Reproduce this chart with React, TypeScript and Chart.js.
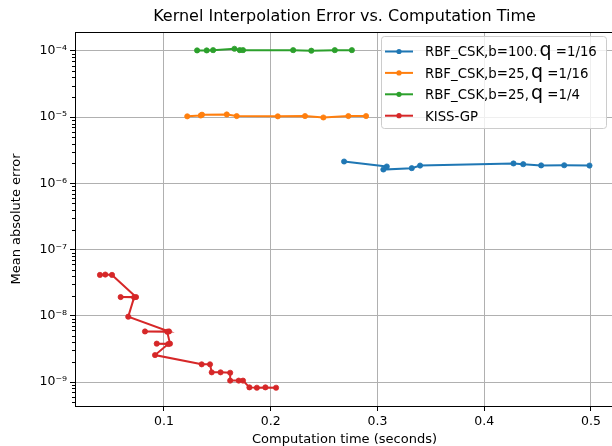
import { useEffect, useRef } from "react";
import { Chart, registerables } from "chart.js";

Chart.register(...registerables);

// ---- data ----
const blueTime = [0.2687, 0.3087, 0.3055, 0.3321, 0.3399, 0.4274, 0.4365, 0.4533, 0.4749, 0.4986];
const blueErr = [2.14e-6, 1.8e-6, 1.62e-6, 1.7e-6, 1.86e-6, 2.0e-6, 1.95e-6, 1.87e-6, 1.88e-6, 1.86e-6];

const orangeTime = [0.1218, 0.1344, 0.1356, 0.1588, 0.1681, 0.2066, 0.2321, 0.2493, 0.2727, 0.2893];
const orangeErr = [1.03e-5, 1.06e-5, 1.09e-5, 1.1e-5, 1.04e-5, 1.03e-5, 1.04e-5, 0.99e-5, 1.04e-5, 1.04e-5];

const greenTime = [0.131, 0.14, 0.146, 0.166, 0.171, 0.174, 0.221, 0.238, 0.26, 0.276];
const greenErr = [1.02e-4, 1.02e-4, 1.03e-4, 1.08e-4, 1.03e-4, 1.03e-4, 1.03e-4, 1.01e-4, 1.03e-4, 1.03e-4];

const redTime = [
  0.04, 0.045, 0.0513, 0.0738, 0.0594, 0.072, 0.0665, 0.1047, 0.0822, 0.103, 0.1056, 0.0932, 0.104,
  0.0916, 0.1353, 0.1431, 0.1447, 0.153, 0.162, 0.162, 0.17, 0.174, 0.18, 0.187, 0.195, 0.205,
];
const redErr = [
  4.15e-8, 4.2e-8, 4.15e-8, 1.92e-8, 1.92e-8, 1.9e-8, 9.7e-9, 5.8e-9, 5.8e-9, 5.75e-9, 3.8e-9, 3.8e-9,
  3.75e-9, 2.55e-9, 1.85e-9, 1.85e-9, 1.4e-9, 1.4e-9, 1.38e-9, 1.05e-9, 1.05e-9, 1.05e-9, 0.83e-9,
  0.82e-9, 0.83e-9, 0.82e-9,
];

const seriesLabels = [
  "RBF_CSK,b=100. q =1/16",
  "RBF_CSK,b=25, q =1/16",
  "RBF_CSK,b=25, q =1/4",
  "KISS-GP",
];
const seriesColors = ["#1f77b4", "#ff7f0e", "#2ca02c", "#d62728"];

const xTickValues = [0.1, 0.2, 0.3, 0.4, 0.5];
const xTickLabels = ["0.1", "0.2", "0.3", "0.4", "0.5"];
const yTickExponents = [-9, -8, -7, -6, -5, -4];
const yTickLabels = ["10⁻⁹", "10⁻⁸", "10⁻⁷", "10⁻⁶", "10⁻⁵", "10⁻⁴"];

const chartTitle = "Kernel Interpolation Error vs. Computation Time";
const xAxisTitle = "Computation time (seconds)";
const yAxisTitle = "Mean absolute error";

const X_MIN = 0.01663;
const X_MAX = 0.52155;
const Y_MIN = 4.343e-10;
const Y_MAX = 1.935e-4;

const FONT = "'DejaVu Sans', sans-serif";

const decorPlugin = {
  id: "decor",
  afterDraw(chart: any) {
    const ctx = chart.ctx as CanvasRenderingContext2D;
    const a = chart.chartArea;
    ctx.save();
    // top & right spines
    ctx.strokeStyle = "#000";
    ctx.lineWidth = 1;
    ctx.beginPath();
    ctx.moveTo(Math.round(a.left) + 0.5, Math.round(a.top) + 0.5);
    ctx.lineTo(Math.round(a.right) + 0.5, Math.round(a.top) + 0.5);
    ctx.lineTo(Math.round(a.right) + 0.5, Math.round(a.bottom) + 0.5);
    ctx.stroke();

    // minor ticks on log axis
    const ys = chart.scales.y;
    ctx.beginPath();
    for (let e = -10; e <= -4; e++) {
      for (let k = 2; k <= 9; k++) {
        const v = k * Math.pow(10, e);
        if (v < Y_MIN || v > Y_MAX) continue;
        const py = Math.round(ys.getPixelForValue(v)) + 0.5;
        ctx.moveTo(a.left - 3, py);
        ctx.lineTo(a.left, py);
      }
    }
    ctx.stroke();

    // title
    ctx.fillStyle = "#000";
    ctx.font = `16px ${FONT}`;
    ctx.textAlign = "center";
    ctx.textBaseline = "middle";
    ctx.fillText(chartTitle, (a.left + a.right) / 2, 17);

    // legend
    const lx = 381.5, ly = 36.5, lw = 225, lh = 92;
    const r = 3;
    ctx.beginPath();
    ctx.moveTo(lx + r, ly);
    ctx.lineTo(lx + lw - r, ly);
    ctx.arcTo(lx + lw, ly, lx + lw, ly + r, r);
    ctx.lineTo(lx + lw, ly + lh - r);
    ctx.arcTo(lx + lw, ly + lh, lx + lw - r, ly + lh, r);
    ctx.lineTo(lx + r, ly + lh);
    ctx.arcTo(lx, ly + lh, lx, ly + lh - r, r);
    ctx.lineTo(lx, ly + r);
    ctx.arcTo(lx, ly, lx + r, ly, r);
    ctx.closePath();
    ctx.fillStyle = "rgba(255,255,255,0.8)";
    ctx.fill();
    ctx.strokeStyle = "#cccccc";
    ctx.stroke();

    seriesLabels.forEach((label, i) => {
      const cy = 51.5 + i * 21.4;
      const col = seriesColors[i];
      ctx.strokeStyle = col;
      ctx.lineWidth = 2;
      ctx.beginPath();
      ctx.moveTo(385, cy);
      ctx.lineTo(413, cy);
      ctx.stroke();
      ctx.fillStyle = col;
      ctx.beginPath();
      ctx.arc(399, cy, 2.6, 0, Math.PI * 2);
      ctx.fill();

      ctx.fillStyle = "#000";
      ctx.textAlign = "left";
      ctx.textBaseline = "alphabetic";
      const base = cy + 4.8;
      let x = 425;
      const parts = label.split(/ q /);
      if (parts.length === 2) {
        ctx.font = `13.3px ${FONT}`;
        ctx.fillText(parts[0], x, base);
        x += ctx.measureText(parts[0]).width + 2;
        ctx.font = `19px ${FONT}`;
        ctx.fillText("q", x, base);
        x += ctx.measureText("q").width;
        ctx.font = `13.3px ${FONT}`;
        ctx.fillText(" " + parts[1], x, base);
      } else {
        ctx.font = `13.3px ${FONT}`;
        ctx.fillText(label, x, base);
      }
    });
    ctx.restore();
  },
};

function makeData(xs: number[], ys: number[]) {
  return xs.map((x, i) => ({ x, y: ys[i] }));
}

export default function App() {
  const ref = useRef<HTMLCanvasElement | null>(null);

  useEffect(() => {
    if (!ref.current) return;
    const series = [
      makeData(blueTime, blueErr),
      makeData(orangeTime, orangeErr),
      makeData(greenTime, greenErr),
      makeData(redTime, redErr),
    ];
    const chart = new Chart(ref.current, {
      type: "scatter",
      data: {
        datasets: series.map((d, i) => ({
          label: seriesLabels[i],
          data: d,
          showLine: true,
          borderColor: seriesColors[i],
          backgroundColor: seriesColors[i],
          borderWidth: 2,
          pointRadius: 2.6,
          pointBorderWidth: 0.8,
          pointBorderColor: seriesColors[i],
          pointBackgroundColor: seriesColors[i],
          tension: 0,
          order: 3 - i,
        })),
      },
      options: {
        animation: false,
        responsive: false,
        maintainAspectRatio: false,
        layout: { padding: { left: 0, right: 6, top: 32, bottom: 0 } },
        plugins: {
          legend: { display: false },
          title: { display: false },
          tooltip: { enabled: false },
        },
        scales: {
          x: {
            type: "linear",
            min: X_MIN,
            max: X_MAX,
            afterBuildTicks: (s: any) => {
              s.ticks = xTickValues.map((v) => ({ value: v }));
            },
            afterFit: (s: any) => {
              s.height = 40;
            },
            ticks: {
              callback: (_v: any, i: number) => xTickLabels[i],
              font: { family: FONT, size: 12.5 },
              color: "#000",
              padding: 3,
              maxRotation: 0,
              autoSkip: false,
            },
            grid: { color: "#b0b0b0", lineWidth: 1, tickLength: 5, tickColor: "#000" },
            border: { display: true, color: "#000", width: 1 },
            title: {
              display: true,
              text: xAxisTitle,
              font: { family: FONT, size: 13, lineHeight: 1 },
              color: "#000",
              padding: { top: 0, bottom: 0 },
            },
          },
          y: {
            type: "logarithmic",
            min: Y_MIN,
            max: Y_MAX,
            afterBuildTicks: (s: any) => {
              s.ticks = yTickExponents.map((e) => ({ value: Math.pow(10, e), major: true }));
            },
            afterFit: (s: any) => {
              s.width = 75;
            },
            ticks: {
              callback: (_v: any, i: number) => yTickLabels[i],
              font: { family: FONT, size: 12.5 },
              color: "#000",
              padding: 3,
              autoSkip: false,
            },
            grid: { color: "#b0b0b0", lineWidth: 1, tickLength: 5, tickColor: "#000" },
            border: { display: true, color: "#000", width: 1 },
            title: {
              display: true,
              text: yAxisTitle,
              font: { family: FONT, size: 13, lineHeight: 1 },
              color: "#000",
              padding: { top: 10, bottom: 0 },
            },
          },
        },
      },
      plugins: [decorPlugin],
    } as any);
    return () => chart.destroy();
  }, []);

  return (
    <div
      style={{
        position: "fixed",
        left: 0,
        top: 0,
        width: 612,
        height: 446,
        overflow: "hidden",
        background: "#fff",
      }}
    >
      <canvas ref={ref} width={620} height={446} style={{ display: "block" }} />
    </div>
  );
}
